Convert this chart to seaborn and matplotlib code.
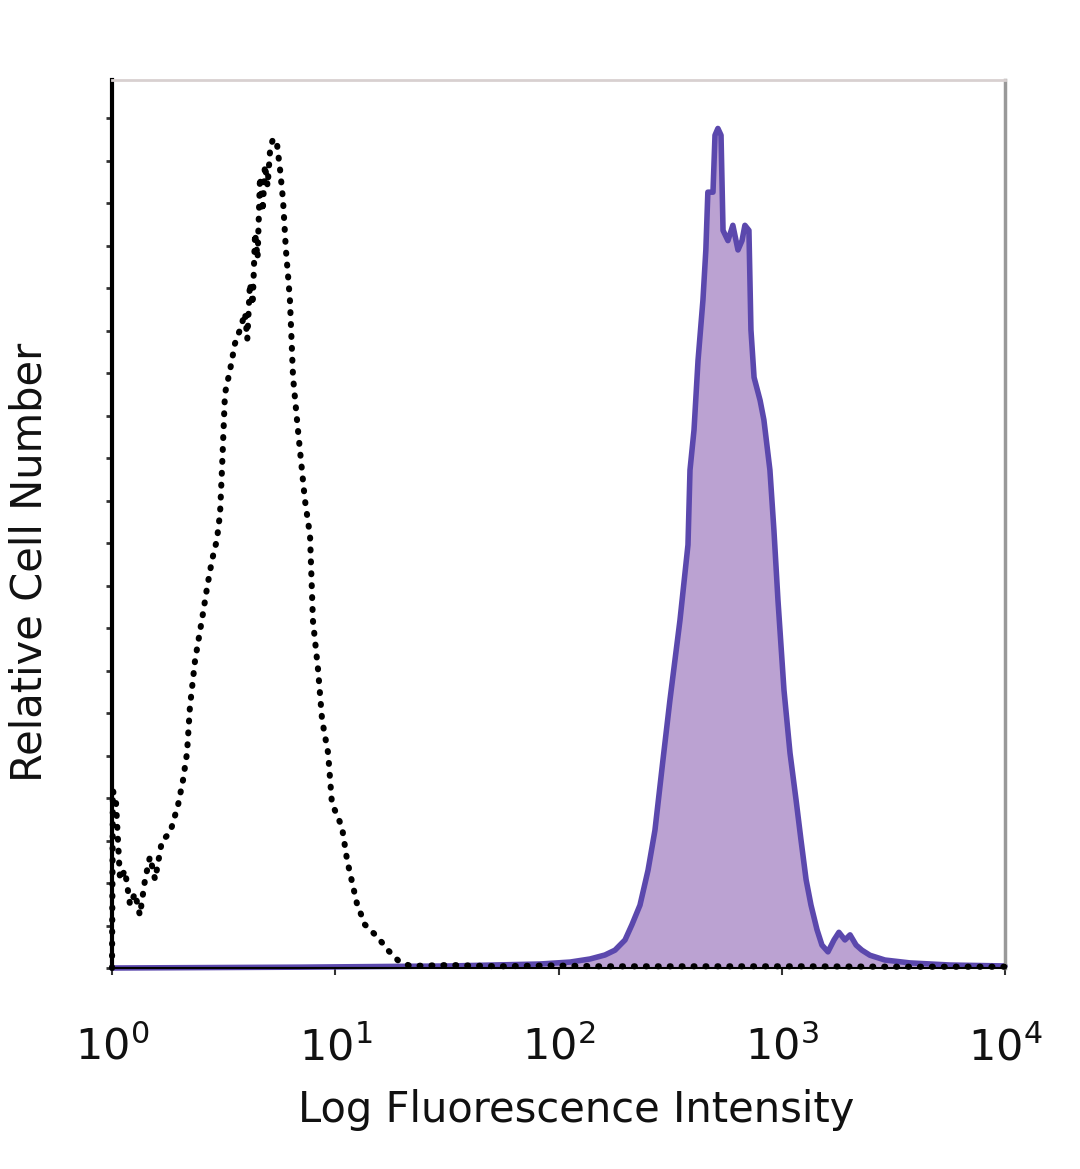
import matplotlib
matplotlib.use("Agg")
import matplotlib.pyplot as plt
import numpy as np
import pandas as pd
import seaborn as sns

# isotype control (dotted black) - log10 intensity vs relative count
iso_log = [0.000, 0.004, 0.018, 0.036, 0.058, 0.081, 0.103, 0.125, 0.148, 0.170,
           0.193, 0.224, 0.260, 0.296, 0.318, 0.336, 0.349, 0.372, 0.408, 0.426,
           0.448, 0.470, 0.484, 0.493, 0.506, 0.529, 0.551, 0.573, 0.596, 0.606,
           0.618, 0.630, 0.641, 0.652, 0.663, 0.675, 0.685, 0.697, 0.708, 0.721,
           0.739, 0.753, 0.766, 0.779, 0.790, 0.797, 0.811, 0.833, 0.864, 0.887,
           0.900, 0.923, 0.941, 0.968, 0.985, 1.030, 1.053, 1.097, 1.133, 1.191,
           1.236, 1.281, 1.335, 1.514, 1.738, 1.962, 2.186, 2.634, 3.082, 3.530, 4.0]
iso_count = [0, 20.9, 19.4, 10.4, 11.5, 7.4, 8.8, 6.2, 10.4, 13.1,
             10.4, 15.0, 15.9, 19.2, 22.1, 25.3, 30.7, 36.2, 41.8, 44.8,
             48.0, 50.4, 53.5, 58.9, 67.6, 70.4, 73.5, 75.1, 77.1, 74.0,
             80.6, 78.0, 86.5, 83.5, 93.1, 89.0, 94.5, 92.0, 96.2, 97.6,
             97.0, 93.9, 90.4, 84.5, 81.0, 78.6, 69.5, 63.3, 55.1, 50.9,
             40.9, 35.1, 29.2, 25.3, 19.4, 16.6, 12.7, 7.6, 5.1, 3.6,
             2.1, 0.9, 0.24, 0.35, 0.2, 0.3, 0.2, 0.2, 0.2, 0.15, 0.15]

# stained sample (filled purple)
smp_log = [0.0, 0.842, 1.514, 1.917, 2.052, 2.141, 2.208, 2.253, 2.298, 2.329,
           2.365, 2.401, 2.432, 2.468, 2.499, 2.544, 2.580, 2.589, 2.607, 2.625,
           2.647, 2.660, 2.669, 2.692, 2.701, 2.714, 2.728, 2.737, 2.759, 2.781,
           2.804, 2.822, 2.835, 2.853, 2.862, 2.876, 2.903, 2.920, 2.947, 2.965,
           2.983, 3.010, 3.037, 3.064, 3.086, 3.109, 3.131, 3.158, 3.180, 3.207,
           3.234, 3.256, 3.283, 3.306, 3.333, 3.359, 3.395, 3.462, 3.574, 3.754, 4.0]
smp_count = [0, 0.1, 0.24, 0.47, 0.7, 1.06, 1.53, 2.1, 3.3, 5.1,
             7.4, 11.5, 16.2, 24.5, 31.5, 40.9, 49.8, 58.6, 63.3, 71.5,
             78.6, 84.5, 91.3, 91.3, 98.0, 98.8, 98.0, 86.8, 85.6, 87.4,
             84.5, 85.6, 87.4, 86.8, 75.1, 69.5, 66.8, 64.5, 58.6, 51.5,
             43.3, 32.7, 25.3, 19.8, 15.1, 10.4, 7.4, 4.5, 2.7, 1.9,
             3.3, 4.2, 3.3, 3.9, 2.7, 2.1, 1.5, 0.94, 0.6, 0.35, 0.24]

decades = [1, 10, 100, 1000, 10000]
tick_labels = ["$10^{0}$", "$10^{1}$", "$10^{2}$", "$10^{3}$", "$10^{4}$"]

iso = pd.DataFrame({"intensity": np.power(10.0, iso_log), "count": iso_count})
smp = pd.DataFrame({"intensity": np.power(10.0, smp_log), "count": smp_count})

sns.set_style("white")
plt.rcParams["font.family"] = ["DejaVu Sans"]
plt.rcParams["text.color"] = "#111111"
plt.rcParams["axes.labelcolor"] = "#111111"
plt.rcParams["xtick.color"] = "#111111"

fig = plt.figure(figsize=(10.8, 11.69), dpi=100)
ax = fig.add_axes([112 / 1080, 1 - 968 / 1169, (1005 - 112) / 1080, (968 - 80) / 1169])

line_c = "#5b48ad"
fill_c = "#bba2d2"

ax.fill_between(smp["intensity"], smp["count"], 0, color=fill_c, lw=0, zorder=1)
sns.lineplot(data=smp, x="intensity", y="count", ax=ax, color=line_c, lw=4,
             estimator=None, sort=False, clip_on=False, zorder=2)
sns.lineplot(data=iso, x="intensity", y="count", ax=ax, color="black", lw=4.4,
             estimator=None, sort=False, clip_on=False, zorder=3,
             linestyle=(0, (0.15, 1.8)), dash_capstyle="round")

ax.set_xscale("log")
ax.set_xlim(1, 10000)
ax.set_ylim(0, 104.5)
ax.set_xticks(decades)
ax.set_xticklabels(tick_labels, fontsize=31)
ax.xaxis.set_minor_locator(matplotlib.ticker.NullLocator())
ax.set_yticks(np.arange(0, 101, 5))
ax.set_yticklabels([])
ax.tick_params(axis="x", direction="out", length=5, width=1.5, color="#333333", pad=37, bottom=True)
ax.tick_params(axis="y", direction="out", length=4, width=2, color="#333333", left=True)

ax.spines["left"].set_color("black")
ax.spines["left"].set_linewidth(3)
ax.spines["bottom"].set_color("black")
ax.spines["bottom"].set_linewidth(1.5)
ax.spines["top"].set_color("#d8d0d0")
ax.spines["top"].set_linewidth(2)
ax.spines["right"].set_color("#999999")
ax.spines["right"].set_linewidth(2.5)

ax.set_xlabel("Log Fluorescence Intensity", fontsize=30, va="center")
ax.set_ylabel("Relative Cell Number", fontsize=30, va="center")
ax.xaxis.set_label_coords(0.52, -0.16)
ax.yaxis.set_label_coords(-0.092, 0.457)

fig.savefig("out.png", dpi=100)
